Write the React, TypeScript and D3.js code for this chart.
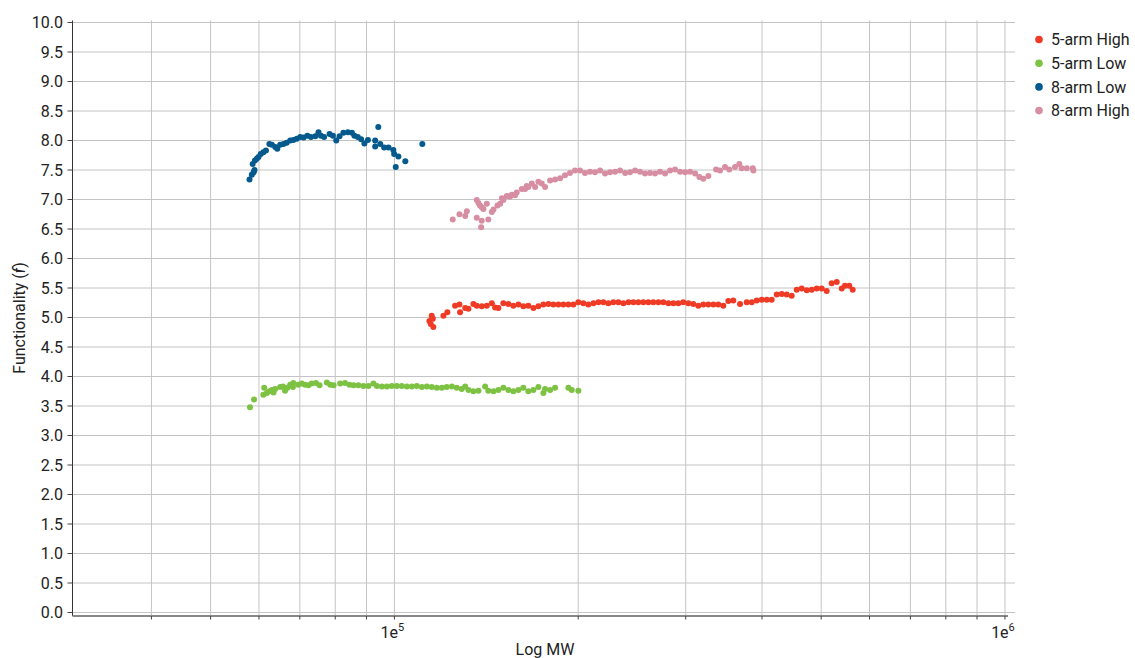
import React from "react";
import * as d3 from "d3";

// ---------- data ----------
const seriesNames = ["5-arm High", "5-arm Low", "8-arm Low", "8-arm High"];
const seriesColors = ["#ef3b26", "#7dc242", "#045a8d", "#d78ea2"];

const high5MW = [114100,115100,115600,115800,114700,120300,122100,125700,127800,128100,130600,132200,134700,136400,139000,141700,144400,146200,148000,150800,153700,156600,159600,162600,165700,168900,172100,175400,178700,182100,185600,189100,192700,196400,200100,203900,207800,211800,215800,219900,224100,228300,232700,237100,241700,246300,250900,255700,260600,265500,270600,275700,281000,286300,291700,297300,303000,308700,314600,320600,326700,333000,339200,345700,352300,359000,368200,377600,384800,392100,399600,407200,414900,422900,430900,439000,447400,455900,464600,473500,482500,491700,501000,510500,520200,530200,540300,547000,555900,563100];
const high5F = [4.94,5.03,4.98,4.84,4.89,5.03,5.09,5.20,5.22,5.09,5.16,5.15,5.23,5.20,5.19,5.20,5.24,5.17,5.16,5.24,5.23,5.20,5.22,5.19,5.20,5.16,5.19,5.22,5.23,5.22,5.22,5.22,5.22,5.22,5.26,5.24,5.22,5.24,5.26,5.26,5.24,5.26,5.26,5.24,5.26,5.26,5.26,5.26,5.26,5.26,5.26,5.26,5.24,5.24,5.24,5.26,5.24,5.23,5.20,5.22,5.22,5.22,5.22,5.20,5.28,5.29,5.23,5.26,5.26,5.29,5.30,5.30,5.30,5.39,5.40,5.39,5.37,5.47,5.49,5.46,5.47,5.49,5.49,5.45,5.58,5.60,5.49,5.54,5.54,5.47];

const low5MW = [58000,58900,61200,61000,61800,62400,63000,63400,63800,65000,65700,66200,66800,67500,68300,68200,69600,70500,71400,72300,73200,74400,75400,77500,78500,79500,81500,83000,84400,85700,87300,89000,90700,92400,93600,95400,97200,99000,100900,102800,104800,106800,108800,110900,113000,115100,117300,119600,121800,124200,126500,128900,130600,132200,134700,137300,140800,142500,145300,148000,150800,153700,156600,159600,162600,165700,168900,172100,175400,176500,179900,183300,192700,195200,200100];
const low5F = [3.48,3.61,3.81,3.69,3.72,3.75,3.77,3.73,3.79,3.82,3.83,3.76,3.81,3.86,3.89,3.82,3.86,3.88,3.86,3.85,3.88,3.89,3.85,3.90,3.86,3.85,3.88,3.89,3.86,3.85,3.85,3.84,3.84,3.88,3.84,3.83,3.83,3.84,3.84,3.84,3.83,3.83,3.84,3.82,3.83,3.82,3.81,3.81,3.82,3.83,3.81,3.79,3.83,3.77,3.75,3.76,3.83,3.76,3.75,3.77,3.81,3.77,3.75,3.77,3.81,3.75,3.77,3.82,3.72,3.79,3.77,3.81,3.81,3.77,3.76];

const low8MW = [57900,58400,58800,59000,58600,59100,59500,59900,60400,61000,61600,62400,63000,63800,64300,65000,65800,66600,67500,68300,69200,70100,71000,72000,73000,74200,75100,75800,76700,78300,79300,80300,81300,82500,83900,85200,86000,87100,88200,89300,90500,93000,93000,94100,94800,96200,97800,99600,99900,101500,100500,104200,111100];
const low8F = [7.34,7.42,7.46,7.50,7.60,7.66,7.69,7.72,7.77,7.80,7.83,7.94,7.93,7.89,7.86,7.93,7.94,7.96,8.00,8.01,8.03,8.06,8.05,8.08,8.06,8.07,8.14,8.08,8.06,8.11,8.08,8.00,8.07,8.13,8.14,8.13,8.08,8.06,8.02,7.95,8.01,8.00,7.90,8.23,7.94,7.88,7.88,7.84,7.77,7.73,7.55,7.65,7.94];

const high8MW = [124600,127800,130600,131400,136400,137300,138100,139000,141700,139900,136400,139000,142500,138700,144400,145300,147500,149000,150000,150800,152800,154700,155700,157600,158600,161700,163700,164700,165700,167900,170000,172100,174300,176500,179900,183300,186800,190300,193900,197600,201400,205200,209100,213100,217200,221300,225500,229800,234200,238700,243200,247800,252500,257300,262200,267200,272300,277500,282800,288200,293700,299300,305000,310800,315800,320600,326700,336400,341400,347900,353600,361300,367200,370500,377600,386300,387200];
const high8F = [6.66,6.75,6.72,6.80,6.99,6.94,6.90,6.87,6.93,6.84,6.69,6.64,6.66,6.53,6.79,6.83,6.90,6.93,7.02,6.99,7.06,7.05,7.08,7.07,7.12,7.18,7.18,7.23,7.21,7.27,7.21,7.30,7.27,7.21,7.32,7.34,7.36,7.41,7.45,7.49,7.49,7.45,7.47,7.46,7.49,7.44,7.46,7.47,7.49,7.45,7.46,7.49,7.47,7.44,7.45,7.44,7.47,7.44,7.49,7.51,7.47,7.46,7.47,7.44,7.38,7.35,7.40,7.51,7.49,7.55,7.51,7.55,7.60,7.53,7.53,7.53,7.49];

const yTicks = [0,0.5,1,1.5,2,2.5,3,3.5,4,4.5,5,5.5,6,6.5,7,7.5,8,8.5,9,9.5,10];
const xGridValues = [40000,50000,60000,70000,80000,90000,100000,200000,300000,400000,500000,600000,700000,800000,900000,1000000];
const xLabelValues = [100000, 1000000];

const seriesMW = [high5MW, low5MW, low8MW, high8MW];
const seriesF = [high5F, low5F, low8F, high8F];

export default function App() {
  const W = 1135, H = 658;
  const left = 72.5, right = 1008, top = 22.5, bottom = 612.5;
  const x = d3.scaleLog().domain([29700, 1011500]).range([left, right]);
  const y = d3.scaleLinear().domain([0, 10]).range([bottom, top]);
  const font = "Roboto, 'Liberation Sans', sans-serif";
  const axisY = 616;

  return (
    <svg width={W} height={H} style={{ position: "absolute", left: 0, top: 0, background: "#fff" }} fontFamily={font}>
      {/* horizontal grid */}
      {yTicks.map((t) => (
        <line key={"hy" + t} x1={left} x2={1015} y1={y(t)} y2={y(t)} stroke="#c4c4c4" strokeWidth={1} />
      ))}
      {/* vertical grid */}
      {xGridValues.map((v) => (
        <line key={"vx" + v} x1={x(v)} x2={x(v)} y1={top - 2} y2={axisY} stroke="#c4c4c4" strokeWidth={1} />
      ))}
      {/* axes */}
      <line x1={left} x2={left} y1={top - 2} y2={axisY} stroke="#333" strokeWidth={1} />
      <line x1={left} x2={right} y1={axisY} y2={axisY} stroke="#888" strokeWidth={2} />
      {xGridValues.map((v) => (
        <line key={"tx" + v} x1={x(v)} x2={x(v)} y1={axisY} y2={axisY + 3.5} stroke="#444" strokeWidth={1} />
      ))}
      {yTicks.map((t) => (
        <g key={"ty" + t}>
          <line x1={left - 5} x2={left} y1={y(t)} y2={y(t)} stroke="#444" strokeWidth={1} />
          <text x={63} y={y(t)} dy="0.36em" textAnchor="end" fontSize={16} fill="#222">
            {t.toFixed(1)}
          </text>
        </g>
      ))}
      {xLabelValues.map((v) => (
        <text key={"xl" + v} x={x(v) - 2} y={638} textAnchor="middle" fontSize={16} fill="#222">
          1e<tspan fontSize={11} dy={-7}>{Math.round(Math.log10(v))}</tspan>
        </text>
      ))}
      {/* axis titles */}
      <text x={545} y={655} textAnchor="middle" fontSize={16} fill="#222">Log MW</text>
      <text transform="translate(25,318) rotate(-90)" textAnchor="middle" fontSize={16} fill="#222">
        Functionality (<tspan fontStyle="italic">f</tspan>)
      </text>
      {/* points */}
      {seriesMW.map((mws, si) => (
        <g key={"s" + si} fill={seriesColors[si]}>
          {mws.map((m, i) => (
            <circle key={i} cx={x(m)} cy={y(seriesF[si][i])} r={3} />
          ))}
        </g>
      ))}
      {/* legend */}
      {seriesNames.map((n, i) => (
        <g key={"lg" + i} transform={`translate(1039,${39.5 + i * 23.7})`}>
          <circle cx={0} cy={0} r={3.8} fill={seriesColors[i]} />
          <text x={12} y={0} dy="0.36em" fontSize={16} fill="#222">{n}</text>
        </g>
      ))}
    </svg>
  );
}
